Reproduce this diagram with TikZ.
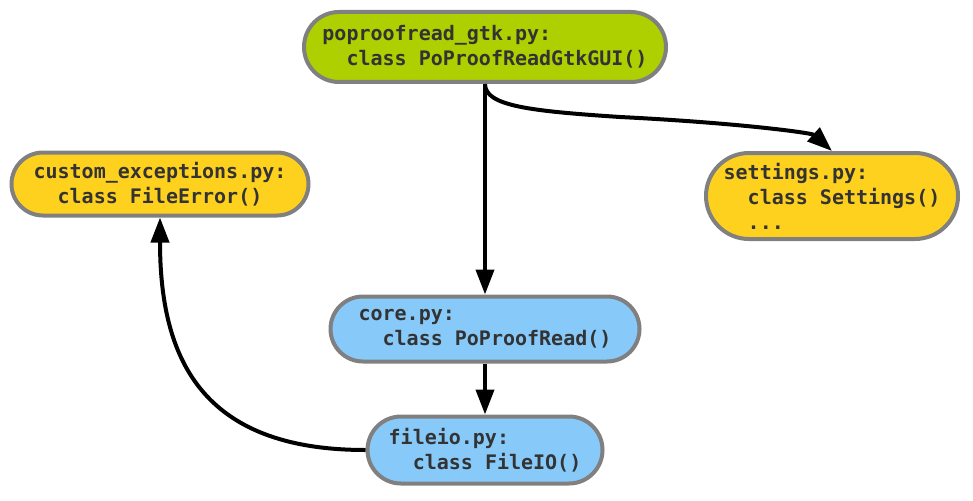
\documentclass[tikz,border=0pt]{standalone}
\usepackage{fontspec}
\setmonofont{DejaVu Sans Mono}
\usetikzlibrary{arrows.meta, positioning, shapes.misc}

\definecolor{guigreen}{RGB}{175,208,0}
\definecolor{modgold}{RGB}{255,209,31}
\definecolor{coreblue}{RGB}{135,202,250}
\definecolor{rimgray}{RGB}{128,128,128}
\newcommand{\ind}{\hphantom{xx}}

\tikzset{
  pymod/.style={rounded rectangle, draw=rimgray, line width=4pt, align=left, inner sep=0pt,
    font=\ttfamily\bfseries\fontsize{20}{25}\selectfont, text=black!80},
  dep/.style={-{Triangle[length=25pt,width=18pt]}, line width=4pt},
}

\begin{document}
\begin{tikzpicture}[x=1pt, y=-1pt]
    \useasboundingbox (0,0) rectangle (973,500);
    % Define modules
    \node[pymod, fill=guigreen, minimum width=362pt, minimum height=70pt] (gui) at (485,47) {poproofread\_gtk.py:\\\ind class PoProofReadGtkGUI()};
    \node[pymod, fill=coreblue, below of=gui, node distance=282pt, minimum width=309pt, minimum height=65pt] (core) {core.py:\\\ind class PoProofRead()};
    \node[pymod, fill=coreblue, below of=core, node distance=121pt, minimum width=235pt, minimum height=67pt] (fileio) {fileio.py:\\\ind class FileIO()};
    \node[pymod, fill=modgold, minimum width=252pt, minimum height=86pt] (settings) at (832,196) {settings.py:\\\ind class Settings()\\\ind ...};
    \node[pymod, fill=modgold, minimum width=297pt, minimum height=63pt] (custom) at (160,184) {custom\_exceptions.py:\\\ind class FileError()};
    \coordinate (bend) at (620,117);

    % Add dependencies
    \draw[dep] (gui.south) -- (core.north);
    \draw[dep] (gui.south) .. controls +(0,22) and +(-90,-6) .. (bend)
        .. controls +(120,6) and +(-20,-18) .. (settings.north);
    \draw[dep] (core.south) -- (fileio.north);
    \draw[dep] (fileio.west) .. controls +(-165,0) and +(0,140) .. (custom.south);
\end{tikzpicture}
\end{document}
